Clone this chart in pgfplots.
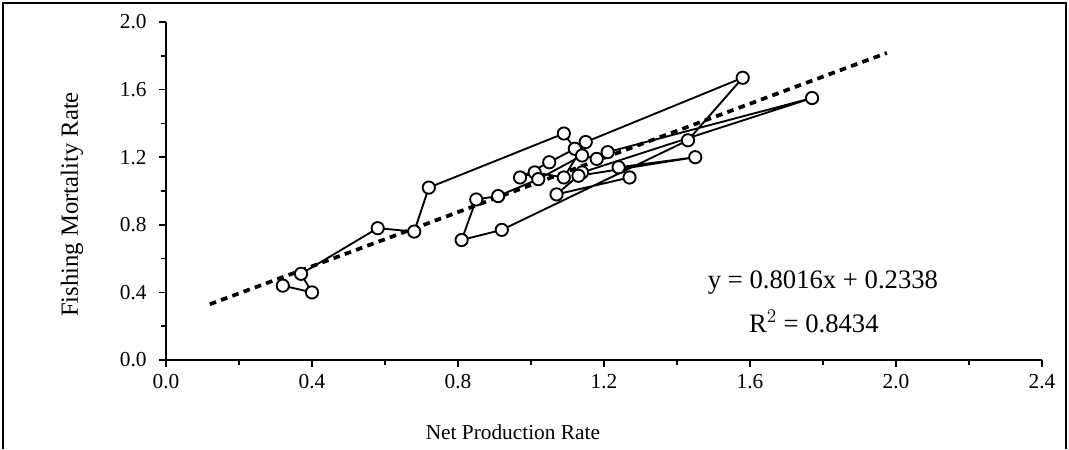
\documentclass[border=0pt]{standalone}
\usepackage{fontspec}
\setmainfont{Liberation Serif}
\usepackage{pgfplots}
\pgfplotsset{compat=1.18}
\begin{document}
\begin{tikzpicture}
\path[use as bounding box] (-124.5pt,-66.75pt) rectangle (677.25pt,270pt);
\draw[line width=2pt] (-122.25pt,-66.75pt) -- (-122.25pt,267.75pt) -- (675pt,267.75pt) -- (675pt,-66.75pt);
\begin{axis}[
  at={(0,0)}, anchor=south west,
  scale only axis, width=657pt, height=253.5pt,
  xmin=0, xmax=2.4, ymin=0, ymax=2.0,
  axis x line=bottom, axis y line=left,
  axis line style={-, line width=1.3pt},
  xtick={0,0.4,...,2.4}, ytick={0,0.4,...,2.0},
  minor x tick num=1, minor y tick num=1,
  tick align=outside,
  major tick length=5pt, minor tick length=3.5pt,
  tick style={line width=1.1pt, black},
  /pgf/number format/assume math mode=true,
  /pgf/number format/.cd, fixed, fixed zerofill, precision=1,
  /pgfplots/.cd,
  ticklabel style={font=\fontsize{16}{18}\selectfont},
  xticklabel style={yshift=-2pt},
  yticklabel style={xshift=-6pt},
  xlabel={Net Production Rate},
  ylabel={Fishing Mortality Rate},
  xlabel style={font=\fontsize{16}{19}\selectfont, at={(axis description cs:0.396,-0.213)}, anchor=center},
  ylabel style={font=\fontsize{18.5}{21}\selectfont, at={(axis description cs:-0.1073,0.46)}, anchor=center},
  clip=false,
]
\addplot[black, line width=2.8pt, dash pattern=on 5pt off 4pt] coordinates {(0.12,0.330) (1.975,1.817)};
\addplot[black, line width=1.4pt, mark=*, mark size=4.6pt,
  mark options={fill=white, draw=black, solid, line width=1.4pt}] coordinates {
(0.32,0.44) (0.40,0.40) (0.37,0.51) (0.58,0.78) (0.68,0.76) (0.72,1.02)
(1.09,1.34) (1.12,1.25) (1.05,1.17) (0.97,1.08) (1.01,1.11) (1.09,1.08)
(1.15,1.29) (1.58,1.67) (1.43,1.30) (0.92,0.77) (0.81,0.71) (0.85,0.95)
(0.91,0.97) (1.02,1.07) (1.14,1.21) (1.18,1.19) (1.21,1.23) (1.77,1.55)
(1.14,1.11) (1.07,0.98) (1.27,1.08) (1.24,1.14) (1.45,1.20) (1.13,1.09)
};
\node[font=\fontsize{20}{23}\selectfont] at (axis cs:1.80,0.456) {y = 0.8016x + 0.2338};
\node[font=\fontsize{20}{23}\selectfont] at (axis cs:1.775,0.225) {R$^{2}$ = 0.8434};
\end{axis}
\end{tikzpicture}
\end{document}
